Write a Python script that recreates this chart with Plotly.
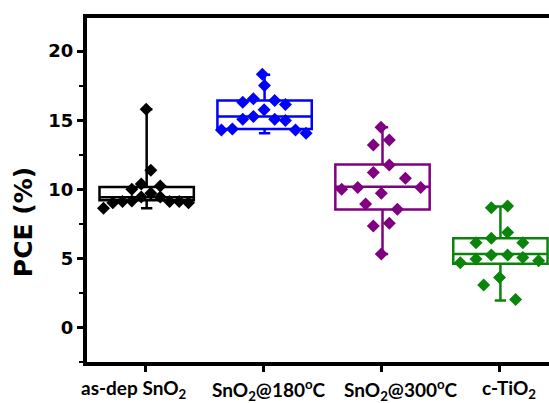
import plotly.graph_objects as go

# ---- data ----
categories = ["as-dep SnO<sub>2</sub>", "SnO<sub>2</sub>@180<sup>o</sup>C",
              "SnO<sub>2</sub>@300<sup>o</sup>C", "c-TiO<sub>2</sub>"]
colors = ["#000000", "#0000FF", "#800080", "#0A840A"]

# box statistics
q1 = [9.2, 14.37, 8.53, 4.62]
median = [9.42, 15.27, 10.19, 5.31]
q3 = [10.17, 16.43, 11.79, 6.45]
lowerfence = [8.62, 14.06, 5.31, 1.95]
upperfence = [15.8, 18.3, 14.5, 8.75]

# individual cells (PCE values) and their horizontal spread within the box
pce_asdep = [8.62, 9.03, 9.11, 9.15, 10.0, 10.39, 9.44, 9.71, 11.38, 15.8,
             10.24, 9.44, 9.11, 9.11, 9.03]
off_asdep = [-0.356, -0.277, -0.195, -0.116, -0.116, -0.036, -0.036, 0.045, 0.045,
             0.006, 0.125, 0.125, 0.204, 0.286, 0.365]

pce_180 = [18.33, 17.51, 16.3, 16.55, 16.43, 16.14, 15.75, 15.07, 15.27, 15.07,
           14.98, 14.3, 14.37, 14.3, 14.06]
off_180 = [-0.009, 0.009, -0.175, -0.085, 0.096, 0.187, 0.006, -0.175, -0.085,
           0.096, 0.187, -0.356, -0.263, 0.272, 0.362]

pce_300 = [14.49, 13.21, 13.57, 11.76, 11.21, 10.8, 10.0, 10.14, 9.71, 10.14,
           8.94, 8.55, 7.34, 7.54, 5.31]
off_300 = [-0.003, -0.068, 0.068, 0.068, -0.068, 0.204, -0.336, -0.2, 0.0, 0.334,
           -0.133, 0.136, -0.068, 0.068, 0.0]

pce_tio2 = [8.67, 8.79, 6.88, 6.14, 6.45, 6.14, 4.95, 5.24, 5.24, 5.07, 4.69,
            4.83, 3.62, 3.07, 2.03]
off_tio2 = [-0.067, 0.071, 0.071, -0.197, -0.067, 0.2, -0.197, -0.067, 0.071,
            0.2, -0.33, 0.334, 0.003, -0.132, 0.139]

values = [pce_asdep, pce_180, pce_300, pce_tio2]
offsets = [off_asdep, off_180, off_300, off_tio2]

fig = go.Figure()

for i in range(len(categories)):
    fig.add_trace(go.Box(
        x=[i + 0.01], q1=[q1[i]], median=[median[i]], q3=[q3[i]],
        lowerfence=[lowerfence[i]], upperfence=[upperfence[i]],
        width=0.8, whiskerwidth=0.12, boxpoints=False,
        line=dict(color=colors[i], width=2.5),
        fillcolor="rgba(0,0,0,0)", showlegend=False, hoverinfo="skip",
    ))

for i in range(len(categories)):
    fig.add_trace(go.Scatter(
        x=[i + o for o in offsets[i]], y=values[i], mode="markers",
        marker=dict(symbol="diamond", size=10, color=colors[i],
                    line=dict(width=0)),
        showlegend=False,
    ))

# category labels (placed like in the reference, slightly off-centre)
label_shift_px = [-11, 6, 20, 10]
annotations = []
for i, lab in enumerate(categories):
    annotations.append(dict(
        text=lab, xref="x", yref="paper", x=i, y=0, xshift=label_shift_px[i],
        yshift=-12, xanchor="center", yanchor="top", showarrow=False,
        font=dict(family="Lato", size=19, color="black", weight="bold"),
    ))
annotations.append(dict(
    text="PCE (%)", textangle=-90, xref="paper", yref="paper",
    x=-0.136, y=0.407, xanchor="center", yanchor="middle", showarrow=False,
    font=dict(family="DejaVu Sans", size=25, color="black", weight="bold"),
))

fig.update_layout(
    width=549, height=403,
    margin=dict(l=87, r=0, t=18, b=41),
    plot_bgcolor="white", paper_bgcolor="white",
    boxmode="overlay",
    xaxis=dict(
        range=[-0.496, 3.422], tickmode="array",
        tickvals=list(range(len(categories))), showticklabels=False,
        showline=True, linecolor="black", linewidth=4, mirror=True,
        ticks="outside", ticklen=6, tickwidth=3, tickcolor="black",
        showgrid=False, zeroline=False,
    ),
    yaxis=dict(
        range=[-2.5, 22.4], tickvals=[0, 5, 10, 15, 20],
        showline=True, linecolor="black", linewidth=4, mirror=False,
        ticks="outside", ticklen=6, tickwidth=2.5, tickcolor="black",
        minor=dict(tickvals=[-2.5, 2.5, 7.5, 12.5, 17.5, 22.5], ticks="outside",
                   ticklen=4, tickwidth=2, tickcolor="black", showgrid=False),
        showgrid=False, zeroline=False,
        tickfont=dict(family="DejaVu Sans", size=18, color="black", weight="bold"),
    ),
    annotations=annotations,
)

fig.write_html("out.html")
